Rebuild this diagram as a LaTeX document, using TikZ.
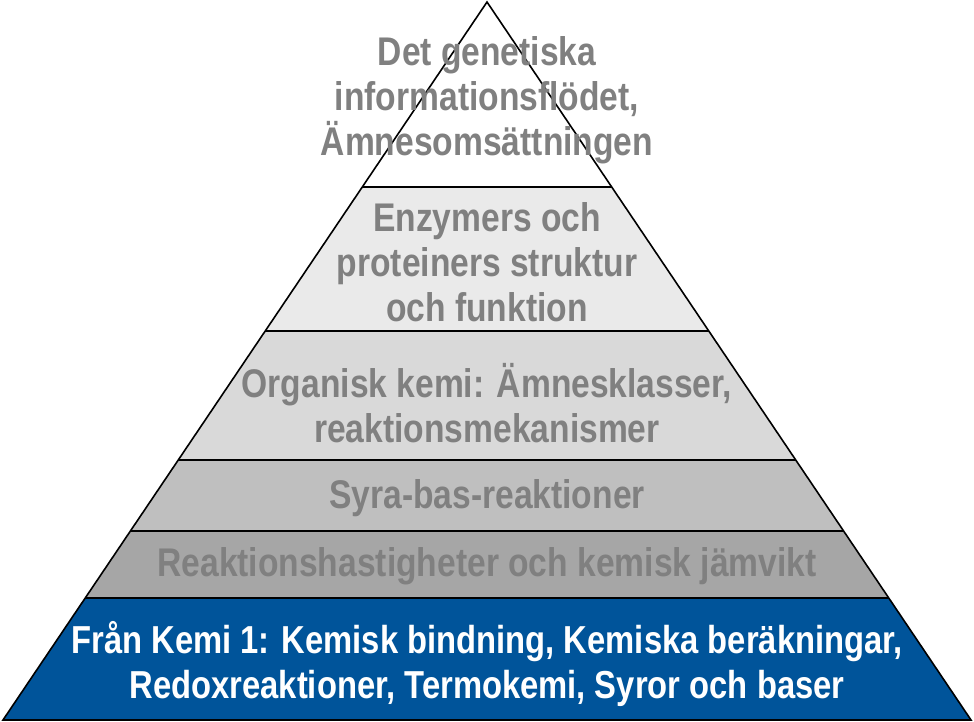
\documentclass[tikz,border=0pt]{standalone}
\usepackage{fontspec}
\setmainfont{Liberation Sans}[FakeStretch=0.84]
\usepackage{xcolor}
\usepackage{tikz}
\usetikzlibrary{calc,positioning}

\definecolor{labelgray}{HTML}{808080}
\definecolor{tierone}{HTML}{FFFFFF}
\definecolor{tiertwo}{HTML}{EAEAEA}
\definecolor{tierthree}{HTML}{D9D9D9}
\definecolor{tierfour}{HTML}{BFBFBF}
\definecolor{tierfive}{HTML}{A6A6A6}
\definecolor{kemiblue}{HTML}{00549A}

\begin{document}
\begin{tikzpicture}[
    x=1pt, y=-1pt,
    outline/.style={
        draw=black,
        line width=1.6pt,
        line join=miter
    },
    tiertext/.style={
        text=labelgray,
        font=\fontsize{40}{45}\selectfont\bfseries,
        align=center,
        inner sep=0pt
    },
    basetext/.style={
        tiertext,
        text=white,
        font=\fontsize{39}{45}\selectfont\bfseries
    }
]
    \useasboundingbox (0,0) rectangle (974,722);

    % Corners
    \coordinate (apex) at (487,2);
    \coordinate (bl) at (3,720);
    \coordinate (br) at (971,720);
    \foreach \i/\t in {1/0.2577, 2/0.4582, 3/0.6379, 4/0.7368, 5/0.8301} {
        \coordinate (l\i) at ($(apex)!\t!(bl)$);
        \coordinate (r\i) at ($(apex)!\t!(br)$);
    }

    % Tiers
    \fill [tierone] (apex) -- (r1) -- (l1) -- cycle;
    \fill [tiertwo] (l1) -- (r1) -- (r2) -- (l2) -- cycle;
    \fill [tierthree] (l2) -- (r2) -- (r3) -- (l3) -- cycle;
    \fill [tierfour] (l3) -- (r3) -- (r4) -- (l4) -- cycle;
    \fill [tierfive] (l4) -- (r4) -- (r5) -- (l5) -- cycle;
    \fill [kemiblue] (l5) -- (r5) -- (br) -- (bl) -- cycle;
    \draw [outline] (apex) -- (br) -- (bl) -- cycle;
    \foreach \i in {1,...,5} {
        \draw [outline] (l\i) -- (r\i);
    }

    % Labels
    \node [tiertext] (genetic) at (487,100) {Det genetiska\\informationsflödet,\\Ämnesomsättningen};
    \node [tiertext] (enzymes) at (487,262) {Enzymers och\\proteiners struktur\\och funktion};
    \node [tiertext] (organic) at (487,403) {Organisk kemi: Ämnesklasser,\\reaktionsmekanismer};
    \node [tiertext] (acidbase) at (487,498) {Syra-bas-reaktioner};
    \node [tiertext] (kinetics) at (487,566) {Reaktionshastigheter och kemisk jämvikt};
    \node [basetext] (kemione) at (487,664) {Från Kemi 1: Kemisk bindning, Kemiska beräkningar,\\Redoxreaktioner, Termokemi, Syror och baser};

\end{tikzpicture}
\end{document}
